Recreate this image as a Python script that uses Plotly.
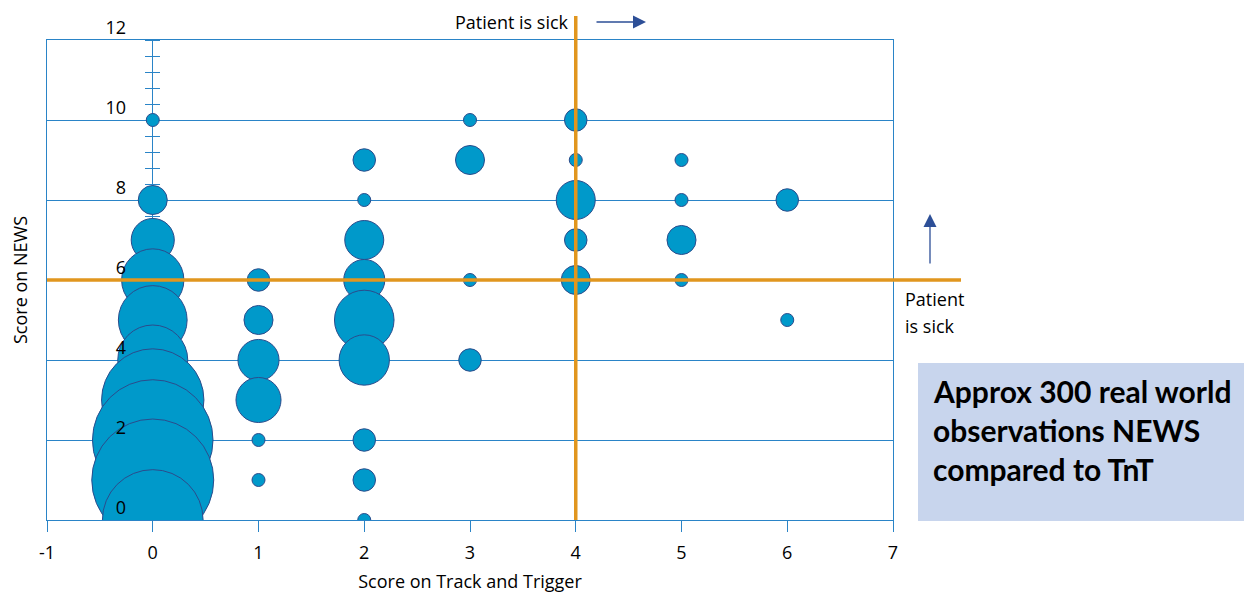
import plotly.graph_objects as go

# ---------------- data ----------------
tnt_score = [0, 0, 0, 0, 0, 0, 0, 0, 0, 0,
             1, 1, 1, 1, 1, 1,
             2, 2, 2, 2, 2, 2, 2, 2, 2,
             3, 3, 3, 3,
             4, 4, 4, 4, 4,
             5, 5, 5, 5,
             6, 6]
news_score = [10, 8, 7, 6, 5, 4, 3, 2, 1, 0,
              6, 5, 4, 3, 2, 1,
              9, 8, 7, 6, 5, 4, 2, 1, 0,
              10, 9, 6, 4,
              10, 9, 8, 7, 6,
              9, 8, 7, 6,
              8, 5]
obs_count = [1, 5, 11, 23, 28, 29, 62, 86, 88, 60,
             3, 5, 10, 12, 1, 1,
             3, 1, 9, 10, 21, 15, 3, 3, 1,
             1, 5, 1, 3,
             3, 1, 9, 3, 5,
             1, 1, 5, 1,
             3, 1]

x_tick_vals = [-1, 0, 1, 2, 3, 4, 5, 6, 7]
x_tick_text = ["-1", "0", "1", "2", "3", "4", "5", "6", "7"]
y_tick_vals = [0, 2, 4, 6, 8, 10, 12]
y_tick_text = ["0", "2", "4", "6", "8", "10", "12"]
sick_threshold_tnt = 4
sick_threshold_news = 6
x_title = "Score on Track and Trigger"
y_title = "Score on NEWS"
sick_label = "Patient is sick"
sick_label_lines = ["Patient", "is sick"]
box_lines = ["Approx 300 real world", "observations NEWS", "compared to TnT"]

# ---------------- styles ----------------
BLUE_LINE = "#2A84C7"
BUBBLE = "#0099CA"
BUBBLE_EDGE = "#2B4C8C"
ORANGE = "#E1961E"
ARROW = "#2D4F97"
BOX = "#C8D5ED"
FONT = "Open Sans"
BOLD_FONT = "Lato"

# page body has an 8px margin; the figure is sized to fill the rest
OFF = 8
W, H = 1252 - OFF, 594 - OFF
L, R, T, B = 47 - OFF, 1252 - 893, 40 - OFF, 594 - 520
PW, PH = W - L - R, H - T - B


def px_x(px):
    return (px - OFF - L) / PW


def px_y(py):
    return (H - B - (py - OFF)) / PH


fig = go.Figure()

fig.add_trace(go.Scatter(
    x=tnt_score, y=news_score, xaxis="x", yaxis="y",
    mode="markers",
    marker=dict(size=obs_count, sizemode="area", sizeref=2 / 13 ** 2,
                color=BUBBLE, opacity=1,
                line=dict(color=BUBBLE_EDGE, width=1)),
    cliponaxis=True, showlegend=False,
    hovertemplate="TnT %{x}<br>NEWS %{y}<br>n=%{marker.size}<extra></extra>",
))
# helper (empty) traces to register the overlay axes
for ax_id in ["y2", "y3", "y4"]:
    fig.add_trace(go.Scatter(x=[None], y=[None], xaxis="x", yaxis=ax_id,
                             showlegend=False, hoverinfo="skip"))

axis_font = dict(family=FONT, size=18, color="black")
title_font = dict(family=FONT, size=18, color="black")
minor_ticks = dict(ticks="outside", tick0=0, dtick=0.4, ticklen=7,
                   tickwidth=1.3, tickcolor=BLUE_LINE, showgrid=False)
zero_pos = px_x(152)

fig.update_layout(
    width=W, height=H,
    margin=dict(l=L, r=R, t=T, b=B, autoexpand=False),
    paper_bgcolor="white", plot_bgcolor="white",
    font=dict(family=FONT, size=16, color="black"),
    showlegend=False,
    xaxis=dict(
        range=[-1, 7], tickmode="array", tickvals=x_tick_vals, ticktext=x_tick_text,
        ticks="outside", ticklen=11, tickwidth=1.3, tickcolor=BLUE_LINE,
        showline=True, linecolor=BLUE_LINE, linewidth=1.3, mirror=True,
        showgrid=False, zeroline=False, layer="above traces",
        tickfont=axis_font, ticklabelstandoff=5,
        title=dict(text=x_title, font=title_font, standoff=12),
    ),
    # frame + horizontal gridlines
    yaxis=dict(
        range=[0, 12], anchor="x", tickmode="array", tickvals=y_tick_vals,
        showticklabels=False, ticks="",
        showgrid=True, gridcolor=BLUE_LINE, gridwidth=1.2,
        showline=True, linecolor=BLUE_LINE, linewidth=1.3, mirror=True,
        zeroline=False, layer="below traces",
        title=dict(text=y_title, font=title_font, standoff=14),
    ),
    # vertical scale line at x=0 with left-side minor ticks
    yaxis2=dict(
        range=[0, 12], overlaying="y", anchor="free", position=zero_pos, side="left",
        tickmode="array", tickvals=y_tick_vals, ticks="", minor=minor_ticks,
        showticklabels=False,
        showline=True, linecolor=BLUE_LINE, linewidth=1.3,
        showgrid=False, zeroline=False, layer="below traces",
    ),
    # right-side minor ticks at x=0
    yaxis3=dict(
        range=[0, 12], overlaying="y", anchor="free", position=zero_pos, side="right",
        tickmode="array", tickvals=y_tick_vals, ticks="", minor=minor_ticks,
        showticklabels=False, showline=False,
        showgrid=False, zeroline=False, layer="below traces",
    ),
    # tick labels drawn above the bubbles
    yaxis4=dict(
        range=[0, 12], overlaying="y", anchor="free", position=zero_pos, side="left",
        tickmode="array", tickvals=y_tick_vals, ticktext=y_tick_text, ticks="",
        showticklabels=True, tickfont=axis_font,
        ticklabelshift=-12, ticklabelstandoff=26,
        showline=False, showgrid=False, zeroline=False, layer="above traces",
    ),
)

# threshold lines
fig.add_shape(type="line", xref="x", yref="paper",
              x0=sick_threshold_tnt, x1=sick_threshold_tnt, y0=0, y1=px_y(16),
              line=dict(color=ORANGE, width=3.5), layer="above")
fig.add_shape(type="line", xref="paper", yref="y",
              x0=0, x1=px_x(961), y0=sick_threshold_news, y1=sick_threshold_news,
              line=dict(color=ORANGE, width=3.5), layer="above")

# info box
fig.add_shape(type="rect", xref="paper", yref="paper",
              x0=px_x(918), x1=px_x(1260), y0=px_y(521), y1=px_y(363),
              fillcolor=BOX, line=dict(width=0), layer="below")

annotations = []
annotations.append(dict(text=sick_label, xref="paper", yref="paper",
                        x=px_x(571), y=px_y(22), xanchor="right", yanchor="middle",
                        showarrow=False, font=dict(family=FONT, size=18, color="black")))
annotations.append(dict(text="", xref="paper", yref="paper",
                        x=px_x(646), y=px_y(22), ax=-51, ay=0,
                        showarrow=True, arrowhead=2, arrowsize=2, arrowwidth=1.3,
                        arrowcolor=ARROW))
annotations.append(dict(text="", xref="paper", yref="paper",
                        x=px_x(930), y=px_y(214), ax=0, ay=51,
                        showarrow=True, arrowhead=2, arrowsize=2, arrowwidth=1.3,
                        arrowcolor=ARROW))
for i, line in enumerate(sick_label_lines):
    annotations.append(dict(text=line, xref="paper", yref="paper",
                            x=px_x(903), y=px_y(299 + 27 * i),
                            xanchor="left", yanchor="middle", showarrow=False,
                            font=dict(family=FONT, size=18, color="black")))
for i, line in enumerate(box_lines):
    annotations.append(dict(text="<b>" + line + "</b>", xref="paper", yref="paper",
                            x=px_x(931), y=px_y(391 + 39 * i),
                            xanchor="left", yanchor="middle", showarrow=False,
                            font=dict(family=BOLD_FONT, size=30, color="black")))
fig.update_layout(annotations=annotations)

fig.write_html("out.html")
